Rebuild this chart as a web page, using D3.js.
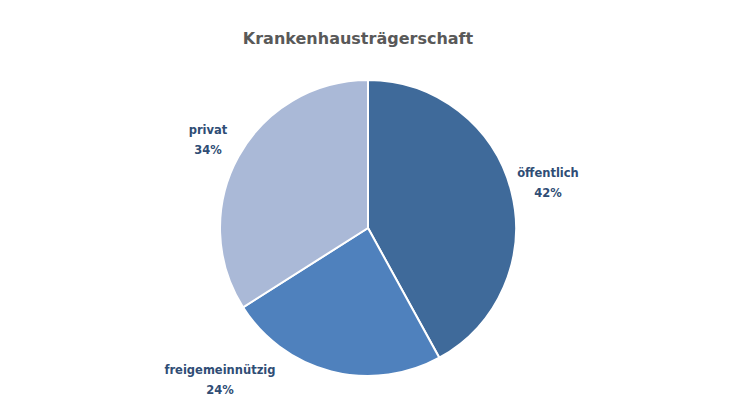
<!DOCTYPE html>
<html><head><meta charset="utf-8">
<script src="https://cdn.jsdelivr.net/npm/d3@7"></script>
<style>body{margin:0;background:#fff}</style>
</head><body>
<svg id="c" width="735" height="415"></svg>
<script>
const categories = ["öffentlich", "freigemeinnützig", "privat"];
const values = [42, 24, 34];
const colors = ["#3f6a9a", "#4f81bd", "#aab9d7"];
const labelPos = [[548, 177], [220, 374], [208, 134]];

const svg = d3.select("#c");
const cx = 368, cy = 228, r = 148;

svg.append("text").attr("x", 358).attr("y", 44).attr("text-anchor", "middle")
  .attr("font-family", "DejaVu Sans, Verdana, sans-serif").attr("font-weight", "bold")
  .attr("font-size", 16).attr("fill", "#595959").text("Krankenhausträgerschaft");

const pie = d3.pie().sort(null).value(d => d);
const arc = d3.arc().innerRadius(0).outerRadius(r);
const g = svg.append("g").attr("transform", `translate(${cx},${cy})`);
g.selectAll("path").data(pie(values)).join("path")
  .attr("d", arc).attr("fill", (d, i) => colors[i])
  .attr("stroke", "#fff").attr("stroke-width", 2);

const lab = svg.append("g").attr("font-family", "DejaVu Sans, Verdana, sans-serif")
  .attr("font-weight", "bold").attr("font-size", 11.5).attr("fill", "#2f4d75").attr("text-anchor", "middle");
categories.forEach((c, i) => {
  const t = lab.append("text").attr("x", labelPos[i][0]).attr("y", labelPos[i][1]);
  t.append("tspan").attr("x", labelPos[i][0]).text(c);
  t.append("tspan").attr("x", labelPos[i][0]).attr("dy", 20).text(values[i] + "%");
});
</script>
</body></html>
